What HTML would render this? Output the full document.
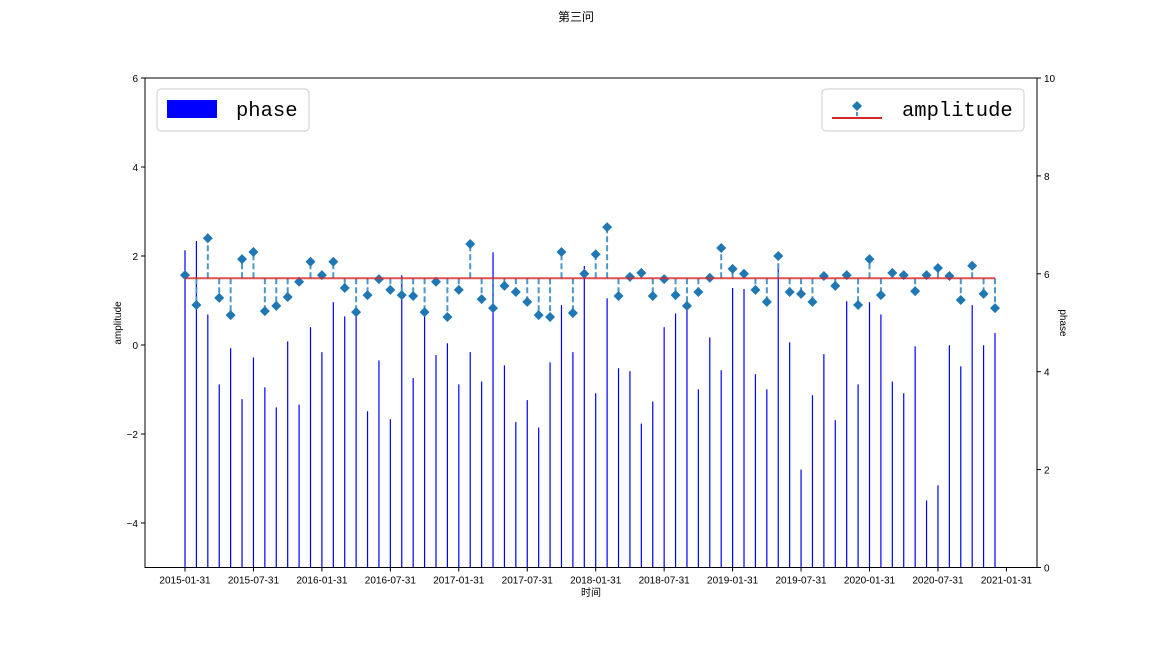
<!DOCTYPE html>
<html><head><meta charset="utf-8"><style>
body{margin:0;background:#fff;}
svg text{font-family:"Liberation Sans","Noto Sans CJK SC",sans-serif;}
</style></head><body>
<svg id="c" width="1152" height="648" xmlns="http://www.w3.org/2000/svg"></svg>
<script>
const amplitude=[1.57,0.90,2.40,1.06,0.67,1.93,2.09,0.76,0.88,1.08,1.42,1.87,1.57,1.87,1.28,0.74,1.12,1.48,1.24,1.12,1.10,0.74,1.42,0.63,1.24,2.27,1.03,0.83,1.33,1.19,0.97,0.67,0.63,2.09,0.72,1.60,2.04,2.65,1.10,1.53,1.62,1.10,1.48,1.12,0.88,1.19,1.51,2.18,1.71,1.60,1.24,0.97,2.00,1.19,1.15,0.97,1.55,1.33,1.57,0.90,1.93,1.12,1.62,1.57,1.21,1.57,1.73,1.55,1.01,1.78,1.15,0.83];
const phase=[6.48,6.67,5.17,3.74,4.48,3.44,4.29,3.68,3.27,4.62,3.33,4.91,4.40,5.42,5.13,5.26,3.19,4.23,3.03,5.97,3.87,5.32,4.34,4.58,3.74,4.40,3.80,6.44,4.13,2.97,3.42,2.86,4.19,5.36,4.40,6.16,3.56,5.50,4.07,4.01,2.94,3.39,4.91,5.19,5.46,3.64,4.70,4.03,5.71,5.69,3.95,3.64,6.11,4.60,2.00,3.52,4.36,3.01,5.44,3.74,5.42,5.17,3.80,3.56,4.52,1.37,1.68,4.54,4.11,5.36,4.54,4.79];
const xTickLabels=["2015-01-31","2015-07-31","2016-01-31","2016-07-31","2017-01-31","2017-07-31","2018-01-31","2018-07-31","2019-01-31","2019-07-31","2020-01-31","2020-07-31","2021-01-31"];
const leftTicks=[-4,-2,0,2,4,6];
const rightTicks=[0,2,4,6,8,10];
const baseline=1.5;

const NS="http://www.w3.org/2000/svg";
const svg=document.getElementById('c');
const L=145,R=1037,T=78,B=567.5;
const xs=i=>185+i*(995-185)/71;
const yl=v=>T+(6-v)*(B-T)/11;
const yr=v=>B-v*(B-T)/10;
function el(tag,attrs,parent){const e=document.createElementNS(NS,tag);for(const k in attrs)e.setAttribute(k,attrs[k]);(parent||svg).appendChild(e);return e;}
function txt(s,attrs,parent){const e=el('text',attrs,parent);e.textContent=s;return e;}

const t=txt("第三问",{x:576,y:21,'text-anchor':'middle','font-size':12});



const bars=el('g',{});


phase.forEach((p,i)=>{
  const r=el('rect',{x:xs(i)-0.6,y:yr(p),width:1.2,height:B-yr(p),fill:'#0000ff'},bars);
  
  
});

const stems=el('g',{});


amplitude.forEach((a,i)=>{
  const l=el('line',{x1:xs(i),x2:xs(i),y1:yl(baseline),y2:yl(a),stroke:'#4c97c8','stroke-width':2,'stroke-dasharray':'6,3'},stems);
  
  
});
const bl=el('line',{x1:xs(0),x2:xs(71),y1:yl(baseline),y2:yl(baseline),stroke:'#d62728','stroke-width':2,opacity:0.8});


amplitude.forEach((a,i)=>{
  const x=xs(i),y=yl(a);
  const m=el('polygon',{points:`${x},${y-5} ${x+5},${y} ${x},${y+5} ${x-5},${y}`,fill:'#1f77b4'},stems);
  
  
});

const frame=el('rect',{x:L,y:T,width:R-L,height:B-T,fill:'none',stroke:'#000','stroke-width':1});



const xa=el('g',{});


xTickLabels.forEach((s,k)=>{
  const x=xs(k*6);
  el('line',{x1:x,x2:x,y1:B,y2:B+4,stroke:'#000'},xa);
  txt(s,{x:x,y:B+16,'text-anchor':'middle','font-size':10},xa);
});
const xt=txt("时间",{x:591,y:596,'text-anchor':'middle','font-size':10});



const ya=el('g',{});


leftTicks.forEach(v=>{
  const y=yl(v);
  el('line',{x1:L-4,x2:L,y1:y,y2:y,stroke:'#000'},ya);
  txt(v<0?'\u2212'+(-v):String(v),{x:L-7,y:y+4,'text-anchor':'end','font-size':10},ya);
});
const yt=txt("amplitude",{x:0,y:0,'text-anchor':'middle','font-size':10,transform:'translate(121,323) rotate(-90)'});



const ra=el('g',{});


rightTicks.forEach(v=>{
  const y=yr(v);
  el('line',{x1:R,x2:R+4,y1:y,y2:y,stroke:'#000'},ra);
  txt(String(v),{x:R+7,y:y+4,'font-size':10},ra);
});
const rt=txt("phase",{x:0,y:0,'text-anchor':'middle','font-size':10,transform:'translate(1060,323) rotate(90)'});



const lg1=el('g',{});


el('rect',{x:157,y:89,width:152,height:42,rx:4,fill:'#fff','fill-opacity':0.8,stroke:'#ccc'},lg1);
el('rect',{x:167,y:100,width:50,height:18,fill:'#0000ff'},lg1);
txt("phase",{x:236,y:116,'font-size':20.5,style:'font-family:"Liberation Mono",monospace'},lg1);

const lg2=el('g',{});


el('rect',{x:822,y:89,width:202,height:42,rx:4,fill:'#fff','fill-opacity':0.8,stroke:'#ccc'},lg2);
el('line',{x1:832,x2:882,y1:118,y2:118,stroke:'#d62728','stroke-width':2},lg2);
el('line',{x1:857,x2:857,y1:106,y2:118,stroke:'#4c97c8','stroke-width':2,'stroke-dasharray':'4,2'},lg2);
el('polygon',{points:'857,101 862,106 857,111 852,106',fill:'#1f77b4'},lg2);
txt("amplitude",{x:902,y:116,'font-size':20.5,style:'font-family:"Liberation Mono",monospace'},lg2);
</script>
</body></html>
